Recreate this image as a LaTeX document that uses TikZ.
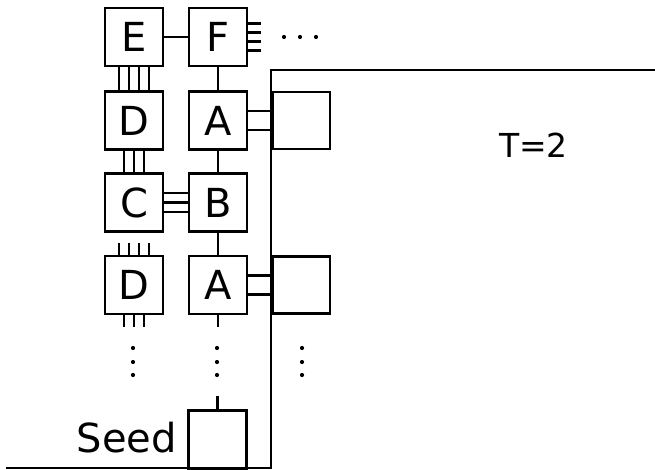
\documentclass[tikz,border=0pt]{standalone}
\usepackage{fontspec}
\setmainfont{DejaVu Sans}
\begin{document}
\begin{tikzpicture}[x=1pt,y=-1pt,line width=2.2pt,
  tile/.style={draw,minimum size=58pt,inner sep=0pt,font=\fontsize{40}{40}\selectfont},
  gbox/.style={draw,minimum size=57pt,inner sep=0pt},
  dot/.style={circle,fill,inner sep=0pt,minimum size=4.2pt}]
\useasboundingbox (0,0) rectangle (655,470);
% tiles
\node[tile] (E) at (134,37) {E};
\node[tile] (F) at (218,37) {F};
\node[tile] (D1) at (134,120.5) {D};
\node[tile] (A1) at (218,120.5) {A};
\node[tile] (C) at (134,202.5) {C};
\node[tile] (B) at (218,202.5) {B};
\node[tile] (D2) at (134,285) {D};
\node[tile] (A2) at (218,285) {A};
\node[gbox] (R1) at (301.5,120.5) {};
\node[gbox] (R2) at (301.5,285) {};
\node[gbox,minimum size=58pt] (S) at (217.5,439.5) {};
\node[anchor=base east,font=\fontsize{40}{40}\selectfont,inner sep=0pt] (seedlbl) at (178,452) {Seed};
\node[anchor=base west,font=\fontsize{33}{33}\selectfont,inner sep=0pt] (T) at (498,158) {T=2};
% wall
\coordinate (w1) at (655,70);
\coordinate (w2) at (271,70);
\coordinate (w3) at (271,468);
\coordinate (w4) at (6,468);
\draw (w1) -- (w2) -- (w3) -- (w4);
% single connectors
\draw (E) -- (F);
\draw (F) -- (A1);
\draw (A1) -- (B);
\draw (B) -- (A2);
% E-D quadruple
\foreach \d in {-15,-5,5,15} {
  \draw ([xshift=\d pt]E.south) -- ([xshift=\d pt]D1.north);
  \draw ([xshift=\d pt]D2.north) -- ++(0,-12);
}
% D-C triple
\foreach \d in {-10,0,10} {
  \draw ([xshift=\d pt]D1.south) -- ([xshift=\d pt]C.north);
  \draw ([xshift=\d pt]D2.south) -- ++(0,12);
  \draw ([yshift=\d*0.95 pt]C.east) -- ([yshift=\d*0.95 pt]B.west);
}
% F stubs
\foreach \d in {-13.5,-4.5,4.5,13.5} {
  \draw ([yshift=\d pt]F.east) -- ++(13,0);
}
% A - R double
\foreach \d in {-9.5,9.5} {
  \draw ([yshift=\d pt]A1.east) -- ([yshift=\d pt]R1.west);
  \draw ([yshift=\d pt]A2.east) -- ([yshift=\d pt]R2.west);
}
% stubs
\draw (A2.south) -- ++(0,12);
\draw (S.north) -- ++(0,-13);
% dots
\foreach \x in {133,217,302} {
  \foreach \y in {348,362,375} { \node[dot] at (\x,\y) {}; }
}
\foreach \x in {284,300,316} { \node[dot] at (\x,37) {}; }
\end{tikzpicture}
\end{document}
